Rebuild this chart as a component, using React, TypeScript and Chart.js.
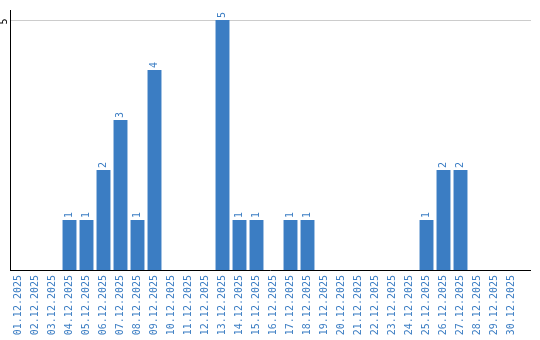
import { useEffect, useRef } from 'react';
import { Chart, registerables } from 'chart.js';

Chart.register(...registerables);

const categories = [
  '01.12.2025', '02.12.2025', '03.12.2025', '04.12.2025', '05.12.2025',
  '06.12.2025', '07.12.2025', '08.12.2025', '09.12.2025', '10.12.2025',
  '11.12.2025', '12.12.2025', '13.12.2025', '14.12.2025', '15.12.2025',
  '16.12.2025', '17.12.2025', '18.12.2025', '19.12.2025', '20.12.2025',
  '21.12.2025', '22.12.2025', '23.12.2025', '24.12.2025', '25.12.2025',
  '26.12.2025', '27.12.2025', '28.12.2025', '29.12.2025', '30.12.2025',
];
const counts = [0, 0, 0, 1, 1, 2, 3, 1, 4, 0, 0, 0, 5, 1, 1, 0, 1, 1, 0, 0, 0, 0, 0, 0, 1, 2, 2, 0, 0, 0];
const yTicks = [5];
const yMin = 0;
const yMax = 5.2;

const BLUE = '#3b7dc3';
const FONT = '"DejaVu Sans Mono", monospace';

export default function App() {
  const ref = useRef<HTMLCanvasElement>(null);

  useEffect(() => {
    if (!ref.current) return;
    const extras = {
      id: 'extras',
      afterDatasetsDraw(chart: any) {
        const { ctx, chartArea } = chart;
        const yScale = chart.scales.y;
        const ext = 11;
        ctx.save();
        // extend grid line(s)
        ctx.strokeStyle = '#cccccc';
        ctx.lineWidth = 1;
        yTicks.forEach((v) => {
          const py = Math.round(yScale.getPixelForValue(v)) + 0.5;
          ctx.beginPath();
          ctx.moveTo(chartArea.right, py);
          ctx.lineTo(chartArea.right + ext, py);
          ctx.stroke();
        });
        // x axis line
        const by = Math.round(chartArea.bottom) + 0.5;
        ctx.strokeStyle = '#000000';
        ctx.beginPath();
        ctx.moveTo(chartArea.left, by);
        ctx.lineTo(chartArea.right + ext, by);
        ctx.stroke();
        // y tick labels
        ctx.fillStyle = '#000000';
        ctx.font = `10px ${FONT}`;
        ctx.textAlign = 'center';
        ctx.textBaseline = 'middle';
        yTicks.forEach((v) => {
          const py = yScale.getPixelForValue(v);
          ctx.save();
          ctx.translate(4.5, py + 1.5);
          ctx.rotate(-Math.PI / 2);
          ctx.fillText(String(v), 0, 0);
          ctx.restore();
        });
        // value labels
        const meta = chart.getDatasetMeta(0);
        ctx.fillStyle = BLUE;
        ctx.font = `10px ${FONT}`;
        ctx.textAlign = 'left';
        ctx.textBaseline = 'middle';
        meta.data.forEach((bar: any, i: number) => {
          const v = counts[i];
          if (!v) return;
          ctx.save();
          ctx.translate(bar.x, bar.y - 2);
          ctx.rotate(-Math.PI / 2);
          ctx.fillText(String(v), 0, 0);
          ctx.restore();
        });
        ctx.restore();
      },
    };

    const chart = new Chart(ref.current, {
      type: 'bar',
      data: {
        labels: categories,
        datasets: [
          {
            data: counts,
            backgroundColor: BLUE,
            borderWidth: 0,
            categoryPercentage: 1,
            barPercentage: 0.82,
          },
        ],
      },
      options: {
        animation: false,
        responsive: false,
        devicePixelRatio: 1,
        layout: { padding: { top: 10, right: 20, left: 0, bottom: 0 } },
        plugins: { legend: { display: false }, tooltip: { enabled: false } },
        scales: {
          x: {
            grid: { display: false, drawTicks: false },
            border: { display: false },
            ticks: {
              color: BLUE,
              font: { family: FONT, size: 10 },
              minRotation: 90,
              maxRotation: 90,
              padding: 5,
              autoSkip: false,
            },
            afterFit: (s: any) => {
              s.height = 70;
            },
          },
          y: {
            min: yMin,
            max: yMax,
            grid: { color: '#cccccc', drawTicks: false },
            border: { display: true, color: '#000000', width: 1 },
            ticks: { display: false },
            afterBuildTicks: (s: any) => {
              s.ticks = yTicks.map((v) => ({ value: v }));
            },
            afterFit: (s: any) => {
              s.width = 10;
            },
          },
        },
      },
      plugins: [extras],
    } as any);
    return () => chart.destroy();
  }, []);

  return (
    <div style={{ position: 'absolute', left: 0, top: 0, width: 540, height: 340, background: '#fff' }}>
      <canvas ref={ref} width={540} height={340} style={{ width: 540, height: 340 }} />
    </div>
  );
}
